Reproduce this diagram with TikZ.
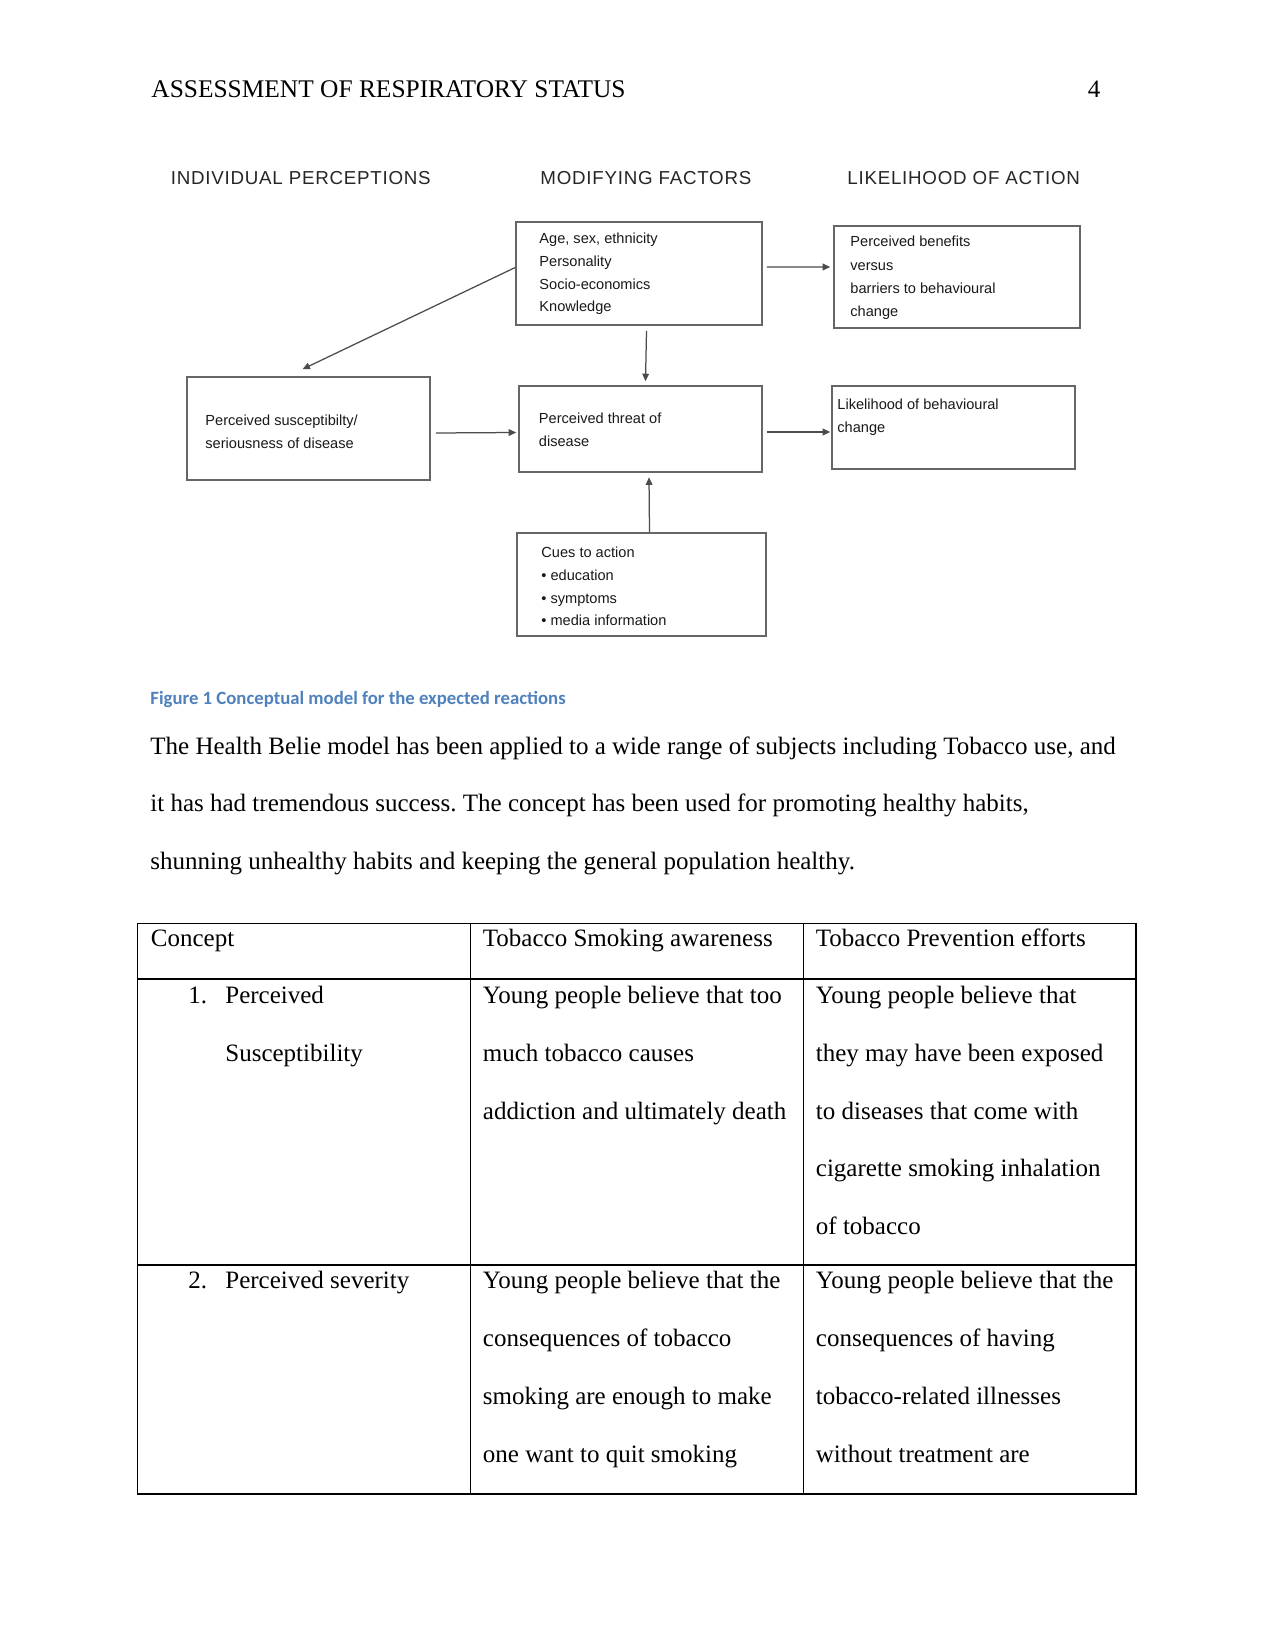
\documentclass[tikz,border=0pt]{standalone}
\usepackage{fontspec}
\setmainfont{Liberation Serif}
\newfontfamily\arialf{Liberation Sans}
\newfontfamily\arialhdr[LetterSpace=4]{Liberation Sans}
\newfontfamily\calibrif{Carlito}
\usetikzlibrary{arrows.meta,calc,fit}
\definecolor{capblue}{HTML}{4F81BD}
\frenchspacing
\begin{document}
\begin{tikzpicture}[x=0.48pt,y=-0.48pt,
  box/.style={draw=black!60, line width=0.75pt, inner sep=0pt},
  arr/.style={draw=black!70, line width=0.6pt, -{Triangle[length=3.6pt,width=3.2pt]}},
  hdr/.style={font=\arialhdr\fontsize{9}{10}\selectfont, text=black!85, inner sep=0pt, anchor=base west},
  btext/.style={font=\arialf\fontsize{7}{10.9}\selectfont, text=black!90, align=left, inner sep=0pt, anchor=north west},
  serif/.style={font=\fontsize{12}{27.7}\selectfont, align=left, inner sep=0pt, anchor=north west},
  serifbase/.style={font=\fontsize{12}{14}\selectfont, inner sep=0pt, anchor=base west},
  tline/.style={draw=black, line width=0.5pt}]
\useasboundingbox[fill=white] (0,0) rectangle (1275,1650);

% running head
\node[serifbase, font=\fontsize{12.2}{14}\selectfont] (runhead) at (151,97.3) {ASSESSMENT OF RESPIRATORY STATUS};
\node[serifbase, anchor=base east] (pagenum) at (1100.7,98) {4};

% column headings
\node[hdr] (h1) at (170.5,185) {INDIVIDUAL PERCEPTIONS};
\node[hdr] (h2) at (540,185) {MODIFYING FACTORS};
\node[hdr] (h3) at (847,185) {LIKELIHOOD OF ACTION};

% boxes
\node[box, fit={(516,222) (762,325)}] (age) {};
\node[box, fit={(834,226) (1080,328)}] (ben) {};
\node[box, fit={(187,377) (430,480)}] (susc) {};
\node[box, fit={(519,386) (762,472)}] (threat) {};
\node[box, fit={(832,386) (1075,469)}] (lik) {};
\node[box, fit={(517,533) (766,636)}] (cues) {};

% box texts
\node[btext] (agetxt) at (539,232.8) {Age, sex, ethnicity\\Personality\\Socio-economics\\Knowledge};
\node[btext, font=\arialf\fontsize{7}{11.2}\selectfont] (bentxt) at (850,236) {Perceived benefits\\versus\\barriers to behavioural\\change};
\node[btext] (susctxt) at (205,414.5) {Perceived susceptibilty/\\seriousness of disease};
\node[btext] (threattxt) at (538.5,413) {Perceived threat of\\disease};
\node[btext] (liktxt) at (837,399) {Likelihood of behavioural\\change};
\node[btext, font=\arialf\fontsize{7}{11}\selectfont] (cuestxt) at (541,546.2) {Cues to action\\• education\\• symptoms\\• media information};

% connectors
\draw[arr] ($(age.west)+(0,-6)$) -- ($(susc.north)+(-6,-7)$);
\draw[arr] ($(susc.east)+(5,4.5)$) -- ($(threat.west)+(-2,3.5)$);
\draw[arr] ($(age.east)+(4,-6.5)$) -- ($(ben.west)+(-3,-10)$);
\draw[arr] ($(age.south)+(7.5,5)$) -- ($(threat.north)+(5,-4)$);
\draw[arr] ($(threat.east)+(4,3)$) -- ($(lik.west)+(-1,4.5)$);
\draw[arr] ($(cues.north)+(8,0)$) -- ($(threat.south)+(8.5,4.5)$);

% caption
\node[font=\calibrif\bfseries\fontsize{9}{11}\selectfont, text=capblue, inner sep=0pt, anchor=base west] (caption) at (150,704) {Figure 1 Conceptual model for the expected reactions};

% paragraph
\node[serif, font=\fontsize{12}{27.65}\selectfont] (para) at (150,736.2) {The Health Belie model has been applied to a wide range of subjects including Tobacco use, and\\it has had tremendous success. The concept has been used for promoting healthy habits,\\shunning unhealthy habits and keeping the general population healthy.};

% table
\draw[tline] (137.3,923.3) rectangle (1136,1494);
\draw[tline] (470.2,923.3) -- (470.2,1494);
\draw[tline] (803.3,923.3) -- (803.3,1494);
\draw[tline] (137.3,979) -- (1136,979);
\draw[tline] (137.3,1265) -- (1136,1265);

\node[serifbase] (c11) at (150.5,946.7) {Concept};
\node[serifbase] (c12) at (482.5,946.7) {Tobacco Smoking awareness};
\node[serifbase] (c13) at (815.5,946.7) {Tobacco Prevention efforts};

\node[serifbase] (n1) at (188,1003) {1.};
\node[serif] (c21) at (225,985.9) {Perceived\\Susceptibility};
\node[serif] (c22) at (482.5,985.9) {Young people believe that too\\much tobacco causes\\addiction and ultimately death};
\node[serif] (c23) at (815.5,985.9) {Young people believe that\\they may have been exposed\\to diseases that come with\\cigarette smoking inhalation\\of tobacco};

\node[serifbase] (n2) at (188,1288.3) {2.};
\node[serif] (c31) at (225,1271.2) {Perceived severity};
\node[serif] (c32) at (482.5,1271.2) {Young people believe that the\\consequences of tobacco\\smoking are enough to make\\one want to quit smoking};
\node[serif] (c33) at (815.5,1271.2) {Young people believe that the\\consequences of having\\tobacco-related illnesses\\without treatment are};
\end{tikzpicture}
\end{document}
